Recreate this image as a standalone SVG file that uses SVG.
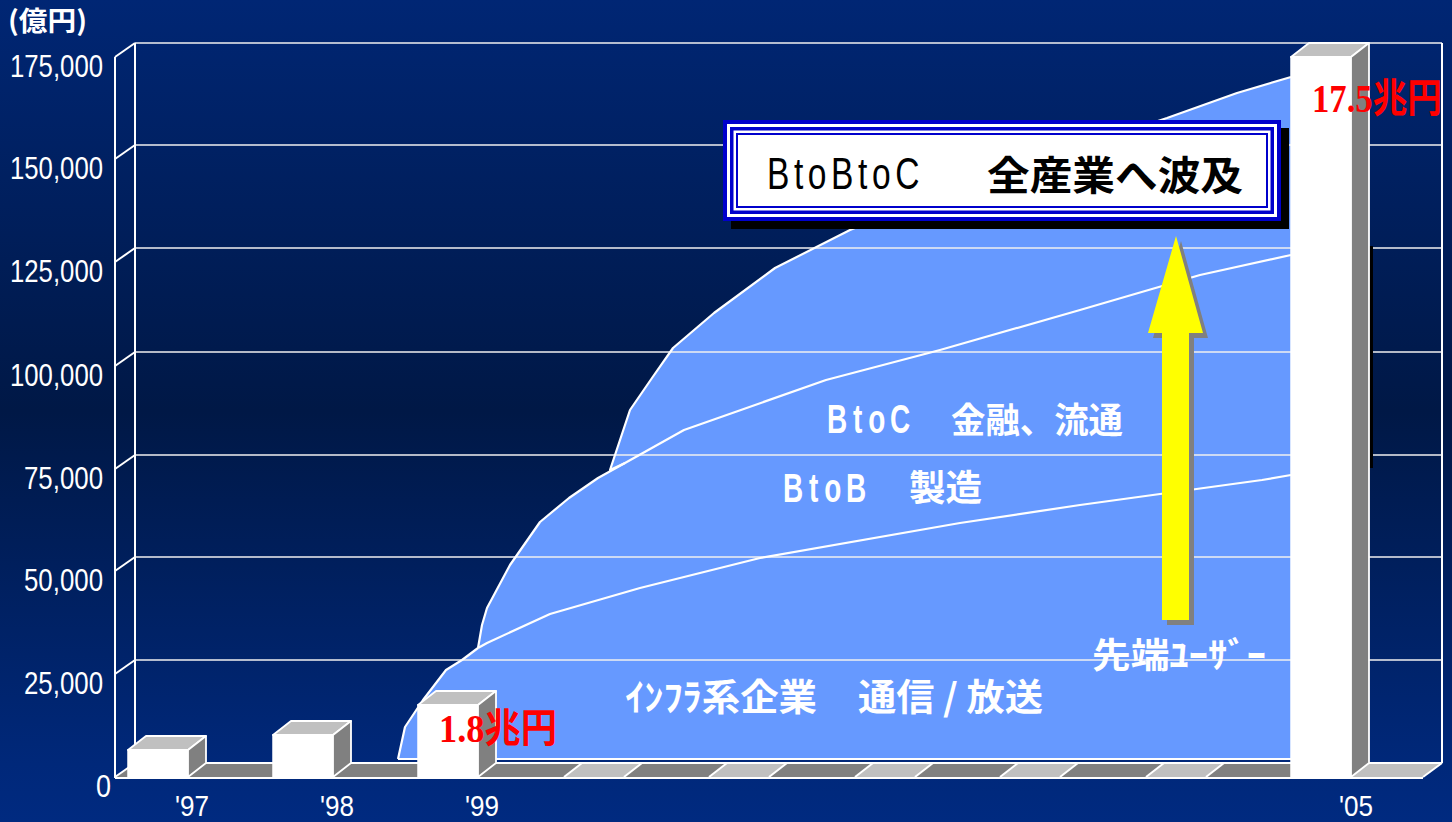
<svg xmlns="http://www.w3.org/2000/svg" width="1452" height="822" viewBox="0 0 1452 822">
<defs>
<linearGradient id="bg" x1="0" y1="0" x2="0" y2="1">
<stop offset="0" stop-color="#002674"/>
<stop offset="0.5" stop-color="#001846"/>
<stop offset="0.93" stop-color="#00287a"/>
<stop offset="1" stop-color="#002a80"/>
</linearGradient>
<style>
.grid{stroke:#f0f0f0;stroke-width:1.6;fill:none}
.wl{stroke:#ffffff;stroke-width:2;fill:none}
.cur{stroke:#ffffff;stroke-width:2.2;fill:none;stroke-linejoin:round}
.dk{fill:#808080}
.lt{fill:#c0c0c0}
.face{fill:#ffffff;stroke:#ffffff;stroke-width:1.5}
.top{fill:#c0c0c0;stroke:#ffffff;stroke-width:1.8;stroke-linejoin:round}
.side{fill:#808080;stroke:#ffffff;stroke-width:1.8;stroke-linejoin:round}
.ax{font-family:"Liberation Sans",Arial,sans-serif;font-size:31px;fill:#ffffff}
.yr{font-family:"Liberation Sans",Arial,sans-serif;font-size:30px;fill:#ffffff}
.jp{font-family:"Noto Sans CJK JP",sans-serif;font-weight:700;fill:#ffffff}
.lat{font-family:"Liberation Sans",Arial,sans-serif;font-weight:700;font-size:40px;fill:#ffffff}
.red{font-family:"Liberation Serif","Noto Sans CJK JP",serif;font-weight:700;font-size:40px;fill:#ff0000}
.bx{fill:#0000cc}
.bw{fill:#ffffff}
</style>
</defs>
<rect id="background" x="0" y="0" width="1452" height="822" fill="url(#bg)"/>

<g id="floor">
<polygon class="dk" points="115,777 134,763 1442,763 1423,777"/>
<polygon class="lt" points="564,777 582,763 642,763 624,777"/>
<polygon class="lt" points="709,777 727,763 787,763 769,777"/>
<polygon class="lt" points="855,777 873,763 933,763 915,777"/>
<polygon class="lt" points="1000,777 1018,763 1078,763 1060,777"/>
<polygon class="lt" points="1146,777 1164,763 1224,763 1206,777"/>
<polygon class="lt" points="1351,777 1369,763 1442,763 1423,777"/>
<g class="wl">
<line x1="564" y1="777" x2="582" y2="763"/><line x1="624" y1="777" x2="642" y2="763"/>
<line x1="709" y1="777" x2="727" y2="763"/><line x1="769" y1="777" x2="787" y2="763"/>
<line x1="855" y1="777" x2="873" y2="763"/><line x1="915" y1="777" x2="933" y2="763"/>
<line x1="1000" y1="777" x2="1018" y2="763"/><line x1="1060" y1="777" x2="1078" y2="763"/>
<line x1="1146" y1="777" x2="1164" y2="763"/><line x1="1206" y1="777" x2="1224" y2="763"/>
<line x1="1423" y1="777" x2="1442" y2="763"/>
<line x1="134" y1="763" x2="1442" y2="763"/>
<line x1="115" y1="778" x2="1423" y2="778"/>
</g>
</g>

<g id="area">
<polygon fill="#6699ff" points="398,759 405,727 423,700 446,670 462,660 478,648 482,625 487,608 510,565 540,522 569,498 598,478 610,471 630,410 652,378 673,348 714,313 775,268 850,230 900,210 1000,172 1100,140 1167,118 1237,93 1291,77 1291,759"/>
</g>

<g id="grid">
<g class="grid">
<line x1="135" y1="43" x2="1442" y2="43"/>
<line x1="135" y1="145" x2="1442" y2="145"/>
<line x1="135" y1="248" x2="1442" y2="248"/>
<line x1="135" y1="352" x2="1442" y2="352"/>
<line x1="135" y1="455" x2="1442" y2="455"/>
<line x1="135" y1="557" x2="1442" y2="557"/>
<line x1="135" y1="660" x2="1442" y2="660"/>
</g>
<g class="wl">
<line x1="135" y1="43" x2="135" y2="763"/>
<line x1="115" y1="57" x2="115" y2="778"/>
<line x1="1442" y1="43" x2="1442" y2="763"/>
<line x1="115" y1="57" x2="135" y2="43"/>
<line x1="115" y1="159" x2="135" y2="145"/>
<line x1="115" y1="262" x2="135" y2="248"/>
<line x1="115" y1="366" x2="135" y2="352"/>
<line x1="115" y1="469" x2="135" y2="455"/>
<line x1="115" y1="571" x2="135" y2="557"/>
<line x1="115" y1="674" x2="135" y2="660"/>
<line x1="115" y1="777" x2="135" y2="763"/>
</g>
</g>

<g id="curves">
<polyline class="cur" points="398,759 405,727 423,700 446,670 462,660 478,648"/>
<polyline class="cur" points="478,648 487,643 550,614 640,588 760,558 960,523 1080,505 1262,480 1291,475"/>
<polyline class="cur" points="478,648 482,625 487,608 510,565 540,522 569,498 598,478 625,463 684,430 826,380 940,350 1080,310 1200,275 1291,255"/>
<polyline class="cur" points="625,463 610,470 630,410 652,378 673,348 714,313 775,268 850,230 900,210 1000,172 1100,140 1167,118 1237,93 1291,77"/>
<line class="cur" x1="398" y1="759" x2="1291" y2="759"/>
</g>

<rect x="1369" y="246" width="4" height="222" fill="#000000"/>

<g id="bar97">
<rect class="face" x="128" y="750" width="60" height="27"/>
<polygon class="top" points="128,750 146,736 206,736 188,750"/>
<polygon class="side" points="188,750 206,736 206,763 188,777"/>
</g>
<g id="bar98">
<rect class="face" x="273" y="735" width="60" height="42"/>
<polygon class="top" points="273,735 291,721 351,721 333,735"/>
<polygon class="side" points="333,735 351,721 351,763 333,777"/>
</g>
<g id="bar99">
<rect class="face" x="418" y="705" width="60" height="72"/>
<polygon class="top" points="418,705 436,691 496,691 478,705"/>
<polygon class="side" points="478,705 496,691 496,763 478,777"/>
</g>
<g id="bar05">
<rect class="face" x="1291" y="57" width="60" height="720"/>
<polygon class="top" points="1291,57 1309,43 1369,43 1351,57"/>
<polygon class="side" points="1351,57 1369,43 1369,763 1351,777"/>
</g>

<g id="callout">
<rect x="731" y="128" width="558" height="101" fill="#000000"/>
<rect class="bx" x="723" y="120" width="558" height="101"/>
<rect class="bw" x="727" y="124" width="550" height="93"/>
<rect class="bx" x="730" y="127" width="544" height="87"/>
<rect class="bw" x="733.5" y="130.5" width="537" height="80"/>
<rect class="bx" x="736" y="133" width="532" height="75"/>
<rect class="bw" x="738" y="135" width="528" height="71"/>
<text x="767" y="189" font-family="Liberation Sans, Arial, sans-serif" font-size="44" fill="#000000" letter-spacing="6" textLength="157" lengthAdjust="spacingAndGlyphs">BtoBtoC</text>
<text x="987" y="190" font-family="Noto Sans CJK JP, sans-serif" font-weight="700" font-size="40" fill="#000000" textLength="256" lengthAdjust="spacingAndGlyphs">全産業へ波及</text>
</g>

<g id="connectors">
<polygon fill="#808080" points="1181,241 1208,338 1194,338 1194,625 1167,625 1167,338 1153,338"/>
<polygon fill="#ffff00" points="1176,236 1203,333 1189,333 1189,620 1162,620 1162,333 1148,333"/>
</g>

<g id="labels">
<text class="jp" x="1092" y="668" font-size="35" textLength="174" lengthAdjust="spacingAndGlyphs">先端ﾕｰｻﾞｰ</text>
<text class="jp" x="625" y="711" font-size="37" textLength="192" lengthAdjust="spacingAndGlyphs">ｲﾝﾌﾗ系企業</text>
<text class="jp" x="858" y="711" font-size="37" textLength="185" lengthAdjust="spacingAndGlyphs">通信 / 放送</text>
<text class="lat" transform="translate(827,433) scale(0.7,1)" x="0 37 59 90" y="0">BtoC</text>
<text class="jp" x="951" y="433" font-size="35" textLength="172" lengthAdjust="spacingAndGlyphs">金融、流通</text>
<text class="lat" transform="translate(783,502) scale(0.7,1)" x="0 37 59 90" y="0">BtoB</text>
<text class="jp" x="909" y="501" font-size="36" textLength="73" lengthAdjust="spacingAndGlyphs">製造</text>
<text class="red" x="439" y="742" textLength="118" lengthAdjust="spacingAndGlyphs">1.8兆円</text>
<text class="red" x="1312" y="112" textLength="130" lengthAdjust="spacingAndGlyphs">17.5兆円</text>
</g>

<g id="axis-labels">
<text class="jp" x="8" y="31" font-size="27" textLength="79" lengthAdjust="spacingAndGlyphs">(億円)</text>
<text class="ax" x="10" y="77" textLength="93" lengthAdjust="spacingAndGlyphs">175,000</text>
<text class="ax" x="10" y="179" textLength="93" lengthAdjust="spacingAndGlyphs">150,000</text>
<text class="ax" x="10" y="282" textLength="93" lengthAdjust="spacingAndGlyphs">125,000</text>
<text class="ax" x="10" y="386" textLength="93" lengthAdjust="spacingAndGlyphs">100,000</text>
<text class="ax" x="24" y="489" textLength="79" lengthAdjust="spacingAndGlyphs">75,000</text>
<text class="ax" x="24" y="591" textLength="79" lengthAdjust="spacingAndGlyphs">50,000</text>
<text class="ax" x="24" y="694" textLength="79" lengthAdjust="spacingAndGlyphs">25,000</text>
<text class="ax" x="96" y="797" textLength="15" lengthAdjust="spacingAndGlyphs">0</text>
<text class="yr" x="175" y="816" textLength="34" lengthAdjust="spacingAndGlyphs">'97</text>
<text class="yr" x="320" y="816" textLength="34" lengthAdjust="spacingAndGlyphs">'98</text>
<text class="yr" x="465" y="816" textLength="34" lengthAdjust="spacingAndGlyphs">'99</text>
<text class="yr" x="1339" y="816" textLength="34" lengthAdjust="spacingAndGlyphs">'05</text>
</g>
</svg>
